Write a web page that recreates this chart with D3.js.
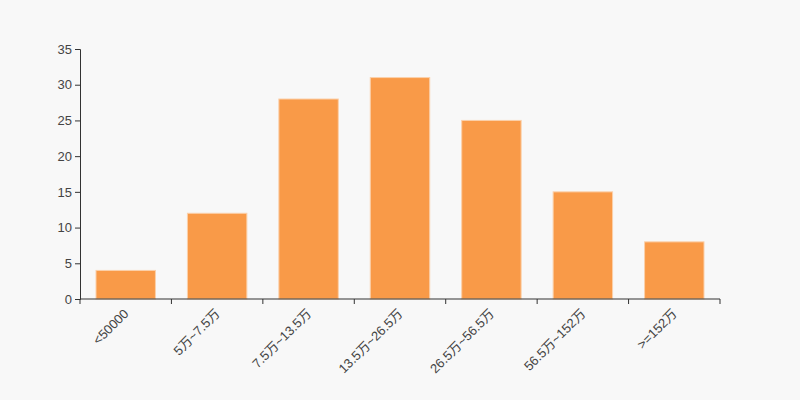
<!DOCTYPE html>
<html>
<head>
<meta charset="utf-8">
<script src="https://cdn.jsdelivr.net/npm/d3@7"></script>
<style>
  html, body { margin: 0; padding: 0; background: #f8f8f8; }
  svg text { font-family: "Liberation Sans", Arial, "Noto Sans CJK SC", sans-serif; }
</style>
</head>
<body>
<div id="chart"></div>
<script>
const categories = ['<50000', '5万~7.5万', '7.5万~13.5万', '13.5万~26.5万', '26.5万~56.5万', '56.5万~152万', '>=152万'];
const values = [4, 12, 28, 31, 25, 15, 8];
const yTicks = [0, 5, 10, 15, 20, 25, 30, 35];

const W = 800, H = 400;
const margin = { top: 49, right: 80, bottom: 101, left: 80 };
const innerW = W - margin.left - margin.right;
const innerH = H - margin.top - margin.bottom;

const svg = d3.select('#chart').append('svg').attr('width', W).attr('height', H);
const g = svg.append('g').attr('transform', `translate(${margin.left},${margin.top})`);

const x = d3.scaleBand().domain(categories).range([0, innerW]).paddingInner(0.35).paddingOuter(0.175);
const xTicks = d3.scaleBand().domain(categories).range([0, innerW]);
const y = d3.scaleLinear().domain([0, 35]).range([innerH, 0]);

// Bars
g.selectAll('rect.bar')
  .data(values)
  .join('rect')
  .attr('class', 'bar')
  .attr('x', (d, i) => x(categories[i]))
  .attr('y', d => y(d))
  .attr('width', x.bandwidth())
  .attr('height', d => innerH - y(d))
  .attr('fill', '#f99a48')
  .attr('stroke', '#fbd0aa')
  .attr('stroke-width', 1);

// Y axis
const yAxis = g.append('g')
  .call(d3.axisLeft(y).tickValues(yTicks).tickSize(5).tickPadding(3));
yAxis.select('.domain').attr('stroke', '#333');
yAxis.selectAll('.tick line').attr('stroke', '#333');
yAxis.selectAll('.tick text').attr('fill', '#444').attr('font-size', '13px');

// X axis: ticks at band boundaries
const xAxis = g.append('g').attr('transform', `translate(0,${innerH})`);
xAxis.append('line').attr('x1', 0).attr('x2', innerW).attr('stroke', '#333');
const bounds = categories.map(c => xTicks(c)).concat([innerW]);
xAxis.selectAll('line.tk')
  .data(bounds)
  .join('line')
  .attr('class', 'tk')
  .attr('x1', d => d).attr('x2', d => d)
  .attr('y1', 0).attr('y2', 5)
  .attr('stroke', '#333');
xAxis.selectAll('text.lbl')
  .data(categories)
  .join('text')
  .attr('class', 'lbl')
  .attr('transform', d => `translate(${xTicks(d) + xTicks.bandwidth() / 2 - 3},${9}) rotate(-45)`)
  .attr('text-anchor', 'end')
  .attr('dy', '0.71em')
  .attr('fill', '#444')
  .attr('font-size', '13px')
  .text(d => d);
</script>
</body>
</html>
